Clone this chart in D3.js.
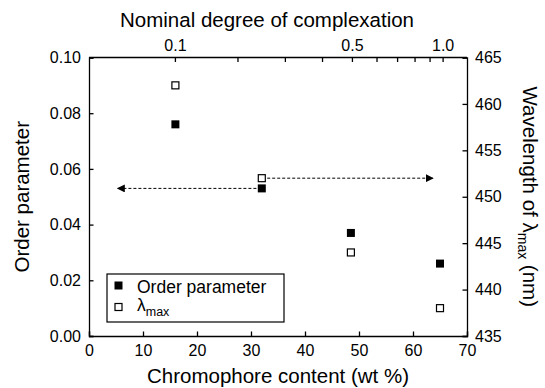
<!DOCTYPE html>
<html>
<head>
<meta charset="utf-8">
<script src="https://cdn.jsdelivr.net/npm/d3@7"></script>
<style>
  body { margin: 0; background: #fff; }
  text { font-family: Arial, "Liberation Sans", sans-serif; fill: #000; }
</style>
</head>
<body>
<div id="chart"></div>
<script>
// data
const content = [16, 32, 48.5, 65];            // chromophore content (wt %)
const orderParam = [0.076, 0.053, 0.037, 0.026];
const lambdaMax = [462, 452, 444, 438];        // nm
const topTicks = [0.1, 0.2, 0.3, 0.4, 0.5, 0.6, 0.7, 0.8, 0.9, 1.0];
const topLabels = {0.1: "0.1", 0.5: "0.5", 1.0: "1.0"};
const leftTicks = [0, 0.02, 0.04, 0.06, 0.08, 0.10];
const rightTicks = [435, 440, 445, 450, 455, 460, 465];
const bottomTicks = [0, 10, 20, 30, 40, 50, 60, 70];
// dashed arrows: [from, to] in wt %, level on its own axis
const leftArrow = {x0: 31, x1: 5.3, y: 0.053};
const rightArrow = {x0: 33, x1: 63.7, y: 452};

// degree of complexation -> wt % (mass ratio chromophore/polymer ~1.905)
const massRatio = 1.905;
const toWt = d => 100 * massRatio * d / (massRatio * d + 1);

const width = 545, height = 388;
const margin = {top: 57.5, right: 78, bottom: 52, left: 89};
const iw = width - margin.left - margin.right;
const ih = height - margin.top - margin.bottom;

const svg = d3.select("#chart").append("svg")
    .attr("width", width)
    .attr("height", height);

const g = svg.append("g")
    .attr("transform", `translate(${margin.left},${margin.top})`);

const x = d3.scaleLinear().domain([0, 70]).range([0, iw]);
const y = d3.scaleLinear().domain([0, 0.10]).range([ih, 0]);
const y2 = d3.scaleLinear().domain([435, 465]).range([ih, 0]);

// minor ticks
function minor(axisGen, vals) { return axisGen.tickValues(vals).tickSize(-2.5).tickFormat(""); }

const bottomAx = g.append("g").attr("transform", `translate(0,${ih})`);
bottomAx.call(minor(d3.axisBottom(x), d3.range(5, 70, 10)));
bottomAx.call(d3.axisBottom(x).tickValues(bottomTicks).tickSize(-4.5).tickPadding(9).tickFormat(d3.format("d")));

const leftAx = g.append("g");
leftAx.call(minor(d3.axisLeft(y), d3.range(0.01, 0.1, 0.02)));
leftAx.call(d3.axisLeft(y).tickValues(leftTicks).tickSize(-4.5).tickPadding(8).tickFormat(d3.format(".2f")));

const rightAx = g.append("g").attr("transform", `translate(${iw},0)`);
rightAx.call(minor(d3.axisRight(y2), d3.range(437.5, 465, 5)));
rightAx.call(d3.axisRight(y2).tickValues(rightTicks).tickSize(-4.5).tickPadding(8).tickFormat(d3.format("d")));

// top axis: nominal degree of complexation
const topAx = g.append("g");
topAx.append("line").attr("x1", 0).attr("x2", iw).attr("stroke", "#000").attr("stroke-width", 1.3);
topAx.selectAll("line.tk").data(topTicks).join("line")
    .attr("class", "tk")
    .attr("x1", d => x(toWt(d))).attr("x2", d => x(toWt(d)))
    .attr("y1", 0).attr("y2", 4.5)
    .attr("stroke", "#000").attr("stroke-width", 1.3);
topAx.selectAll("text").data(topTicks.filter(d => topLabels[d])).join("text")
    .attr("x", d => x(toWt(d))).attr("y", -7)
    .attr("text-anchor", "middle")
    .style("font-size", "16px")
    .text(d => topLabels[d]);

g.selectAll(".domain").attr("stroke", "#000").attr("stroke-width", 1.3);
g.selectAll(".tick line").attr("stroke", "#000").attr("stroke-width", 1.3);
g.selectAll(".tick text").style("font-size", "16px");

// arrowheads
const defs = svg.append("defs");
defs.append("marker")
    .attr("id", "arr")
    .attr("viewBox", "0 0 10 10")
    .attr("refX", 9).attr("refY", 5)
    .attr("markerWidth", 8).attr("markerHeight", 8)
    .attr("markerUnits", "userSpaceOnUse")
    .attr("orient", "auto")
  .append("path").attr("d", "M0,0L10,5L0,10Z").attr("fill", "#000");

g.append("line")
    .attr("x1", x(leftArrow.x0)).attr("x2", x(leftArrow.x1))
    .attr("y1", y(leftArrow.y)).attr("y2", y(leftArrow.y))
    .attr("stroke", "#000").attr("stroke-width", 1)
    .attr("stroke-dasharray", "3,2")
    .attr("marker-end", "url(#arr)");
g.append("line")
    .attr("x1", x(rightArrow.x0)).attr("x2", x(rightArrow.x1))
    .attr("y1", y2(rightArrow.y)).attr("y2", y2(rightArrow.y))
    .attr("stroke", "#000").attr("stroke-width", 1)
    .attr("stroke-dasharray", "3,2")
    .attr("marker-end", "url(#arr)");

// markers
const ms = 8;
g.selectAll("rect.op").data(content).join("rect")
    .attr("class", "op")
    .attr("x", (d) => x(d) - ms / 2)
    .attr("y", (d, i) => y(orderParam[i]) - ms / 2)
    .attr("width", ms).attr("height", ms)
    .attr("fill", "#000");
g.selectAll("rect.lm").data(content).join("rect")
    .attr("class", "lm")
    .attr("x", (d) => x(d) - ms / 2 + 0.5)
    .attr("y", (d, i) => y2(lambdaMax[i]) - ms / 2 + 0.5)
    .attr("width", ms - 1).attr("height", ms - 1)
    .attr("fill", "#fff").attr("stroke", "#000").attr("stroke-width", 1.2);

// legend
const lg = g.append("g").attr("transform", `translate(${107 - margin.left},${274 - margin.top})`);
lg.append("rect").attr("width", 177).attr("height", 48)
    .attr("fill", "#fff").attr("stroke", "#000").attr("stroke-width", 1.2);
lg.append("rect").attr("x", 7.5).attr("y", 7.5).attr("width", 8).attr("height", 8).attr("fill", "#000");
lg.append("rect").attr("x", 8).attr("y", 29.5).attr("width", 7).attr("height", 7)
    .attr("fill", "#fff").attr("stroke", "#000").attr("stroke-width", 1.2);
lg.append("text").attr("x", 30).attr("y", 18.5).style("font-size", "17.5px").text("Order parameter");
const lt = lg.append("text").attr("x", 30).attr("y", 37).style("font-size", "17.5px");
lt.append("tspan").text("λ");
lt.append("tspan").attr("dy", 5).style("font-size", "12.5px").text("max");

// axis titles
svg.append("text")
    .attr("x", margin.left + iw / 2 - 11).attr("y", 27)
    .attr("text-anchor", "middle").style("font-size", "20.5px")
    .text("Nominal degree of complexation");
svg.append("text")
    .attr("x", margin.left + iw / 2).attr("y", 383)
    .attr("text-anchor", "middle").style("font-size", "20.5px")
    .text("Chromophore content (wt %)");
svg.append("text")
    .attr("transform", `translate(29,${margin.top + ih / 2}) rotate(-90)`)
    .attr("text-anchor", "middle").style("font-size", "20.5px")
    .text("Order parameter");
const rt = svg.append("text")
    .attr("transform", `translate(523,${margin.top + ih / 2}) rotate(90)`)
    .attr("text-anchor", "middle").style("font-size", "20.5px");
rt.append("tspan").text("Wavelength of λ");
rt.append("tspan").attr("dy", 5).style("font-size", "14px").text("max");
rt.append("tspan").attr("dy", -5).text(" (nm)");
</script>
</body>
</html>
